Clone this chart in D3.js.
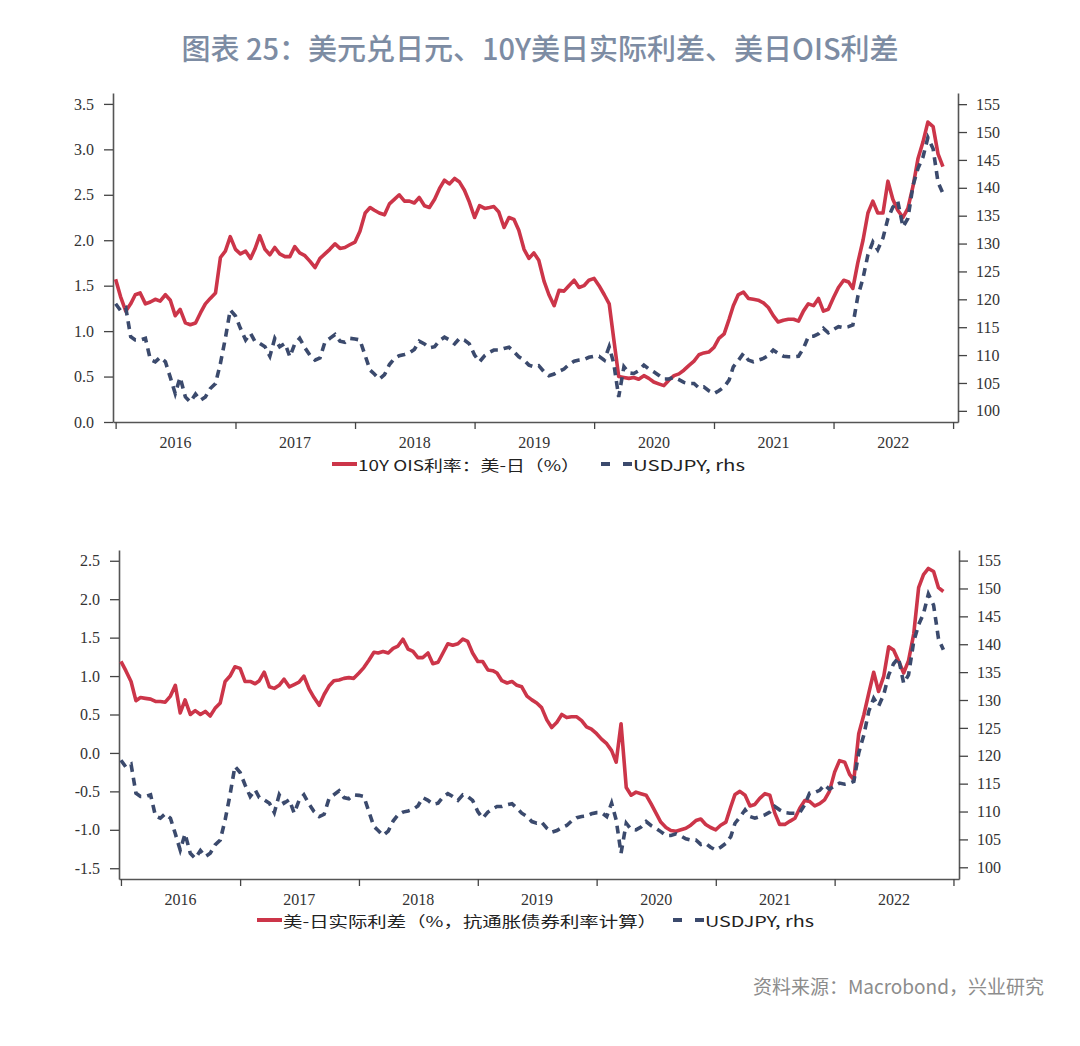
<!DOCTYPE html>
<html>
<head>
<meta charset="utf-8">
<script src="https://cdn.jsdelivr.net/npm/d3@7"></script>
<style>
  body { margin: 0; background: #fff; }
  .tick text { font-family: "Liberation Serif", "DejaVu Serif", serif; font-size: 16px; fill: #333; }
</style>
</head>
<body>
<svg id="chart" width="1080" height="1046"></svg>
<script>
// semi-monthly sample dates: 1st and 16th of each month, Jan 2016 .. Dec 1 2022
const dates = [];
d3.timeMonth.range(new Date(2016, 0, 1), new Date(2022, 11, 2)).forEach((m) => {
  dates.push(m);
  if (m < new Date(2022, 11, 1)) dates.push(new Date(m.getFullYear(), m.getMonth(), 16));
});

const years = [2016, 2017, 2018, 2019, 2020, 2021, 2022];

// 10Y OIS spread US-Japan (%)
const oisSpread = [
  1.57, 1.38, 1.22, 1.30, 1.40, 1.42, 1.30, 1.32, 1.35, 1.33,
  1.40, 1.34, 1.17, 1.24, 1.09, 1.07, 1.09, 1.20, 1.30, 1.36,
  1.42, 1.81, 1.88, 2.04, 1.90, 1.85, 1.88, 1.80, 1.90, 2.05,
  1.90, 1.84, 1.92, 1.85, 1.82, 1.82, 1.93, 1.86, 1.83, 1.77,
  1.70, 1.80, 1.85, 1.90, 1.96, 1.91, 1.92, 1.95, 1.98, 2.10,
  2.30, 2.36, 2.33, 2.30, 2.28, 2.40, 2.45, 2.50, 2.43, 2.43,
  2.41, 2.47, 2.38, 2.36, 2.45, 2.57, 2.66, 2.62, 2.68, 2.64,
  2.55, 2.42, 2.25, 2.38, 2.35, 2.36, 2.37, 2.31, 2.14, 2.25,
  2.23, 2.11, 1.90, 1.80, 1.86, 1.78, 1.55, 1.40, 1.28, 1.45,
  1.44, 1.50, 1.56, 1.48, 1.50, 1.56, 1.58, 1.50, 1.40, 1.30,
  0.91, 0.50, 0.49, 0.48, 0.49, 0.47, 0.51, 0.48, 0.44, 0.42,
  0.40, 0.46, 0.51, 0.53, 0.57, 0.62, 0.67, 0.74, 0.76, 0.77,
  0.82, 0.92, 0.97, 1.13, 1.28, 1.40, 1.43, 1.36, 1.35, 1.34,
  1.31, 1.26, 1.17, 1.10, 1.12, 1.13, 1.13, 1.11, 1.22, 1.30,
  1.28, 1.36, 1.22, 1.24, 1.37, 1.48, 1.56, 1.54, 1.47, 1.75,
  2.00, 2.30, 2.43, 2.30, 2.30, 2.65, 2.45, 2.33, 2.25, 2.35,
  2.60, 2.90, 3.08, 3.30, 3.25, 2.95, 2.81
];

// USDJPY (rhs), same series in both panels
const usdjpy = [
  119.2, 118.0, 118.5, 113.3, 112.7, 112.7, 113.0, 109.2, 108.8, 109.6,
  108.8, 106.0, 103.1, 106.0, 102.5, 101.6, 103.0, 101.9, 102.5, 104.0,
  104.9, 108.5, 113.0, 118.1, 117.0, 114.8, 112.7, 113.9, 112.5, 112.1,
  111.5, 109.8, 113.0, 111.5, 112.1, 109.7, 112.0, 113.0, 111.3, 110.0,
  109.1, 109.5, 112.3, 113.0, 113.7, 112.5, 112.3, 113.0, 112.9, 112.7,
  109.9, 107.3, 106.6, 105.7, 106.5, 108.3, 109.4, 109.9, 110.1, 110.4,
  111.0, 112.5, 112.0, 111.3, 111.5, 112.6, 113.2, 112.7, 112.0, 113.0,
  112.7, 112.0, 110.0, 108.8, 109.9, 110.5, 110.9, 110.9, 111.2, 111.4,
  110.6, 109.7, 109.1, 108.2, 107.9, 108.1, 107.0, 106.3, 106.6, 107.1,
  107.5, 108.3, 108.9, 109.1, 109.2, 109.6, 109.8, 109.8, 109.1, 111.5,
  108.5, 102.5, 107.9, 106.8, 106.7, 107.2, 108.2, 107.5, 107.0, 106.4,
  105.7, 105.7, 106.0, 105.6, 105.1, 104.9, 104.9, 104.1, 104.3, 103.6,
  103.1, 103.6, 104.3, 105.5, 107.9, 109.0, 110.3, 109.1, 108.8, 109.1,
  109.4, 109.9, 110.9, 110.3, 109.8, 109.7, 109.7, 109.8, 111.2, 113.3,
  113.4, 113.8, 114.8, 114.0, 114.6, 115.1, 114.9, 115.1, 115.4, 120.5,
  123.8, 128.0, 130.3, 128.9, 131.0, 134.5, 136.5, 137.6, 133.0, 134.5,
  140.5, 143.5, 145.5, 149.0, 147.0, 141.0, 139.0
];

// US-Japan real yield spread (%, from inflation-linked bonds)
const realSpread = [
  1.19, 1.07, 0.93, 0.68, 0.72, 0.71, 0.70, 0.67, 0.67, 0.66,
  0.74, 0.88, 0.52, 0.69, 0.50, 0.55, 0.50, 0.54, 0.48, 0.58,
  0.65, 0.93, 1.00, 1.12, 1.10, 0.93, 0.93, 0.90, 0.94, 1.05,
  0.86, 0.84, 0.88, 0.96, 0.86, 0.89, 0.92, 1.00, 0.83, 0.72,
  0.62, 0.76, 0.87, 0.94, 0.95, 0.97, 0.98, 0.97, 1.04, 1.11,
  1.21, 1.31, 1.30, 1.32, 1.30, 1.36, 1.39, 1.48, 1.35, 1.32,
  1.24, 1.24, 1.30, 1.16, 1.18, 1.30, 1.42, 1.40, 1.42, 1.48,
  1.45, 1.30, 1.19, 1.19, 1.08, 1.07, 1.04, 0.94, 0.91, 0.93,
  0.88, 0.86, 0.74, 0.69, 0.65, 0.59, 0.43, 0.33, 0.40, 0.50,
  0.46, 0.47, 0.47, 0.42, 0.34, 0.31, 0.25, 0.18, 0.12, 0.03,
  -0.12, 0.38, -0.45, -0.55, -0.51, -0.53, -0.55, -0.66, -0.78, -0.90,
  -0.97, -1.01, -1.02, -1.00, -0.98, -0.94, -0.88, -0.86, -0.93, -0.97,
  -1.00, -0.94, -0.90, -0.70, -0.54, -0.50, -0.55, -0.69, -0.67, -0.59,
  -0.53, -0.55, -0.78, -0.93, -0.93, -0.89, -0.85, -0.72, -0.62, -0.63,
  -0.69, -0.66, -0.61, -0.50, -0.25, -0.10, -0.12, -0.28, -0.35, 0.25,
  0.50, 0.78, 1.05, 0.80, 1.00, 1.38, 1.34, 1.20, 1.04, 1.20,
  1.55, 2.15, 2.32, 2.40, 2.36, 2.15, 2.10
];

const leftTicks1 = [0, 0.5, 1.0, 1.5, 2.0, 2.5, 3.0, 3.5];
const leftTicks2 = [-1.5, -1.0, -0.5, 0, 0.5, 1.0, 1.5, 2.0, 2.5];
const rightTicks = [100, 105, 110, 115, 120, 125, 130, 135, 140, 145, 150, 155];

const redColor = "#cc3549";
const blueColor = "#3b4a6d";

const svg = d3.select("#chart");

// title and source
svg.append("text")
  .attr("x", 540)
  .attr("y", 47)
  .attr("text-anchor", "middle")
  .attr("dominant-baseline", "central")
  .style("font-family", "'Noto Sans CJK SC', sans-serif")
  .style("font-size", "29px")
  .style("font-weight", 500)
  .style("fill", "#7d8ca3")
  .text("图表 25：美元兑日元、10Y美日实际利差、美日OIS利差");

svg.append("text")
  .attr("x", 1044)
  .attr("y", 985)
  .attr("text-anchor", "end")
  .attr("dominant-baseline", "central")
  .style("font-family", "'Noto Sans CJK SC', sans-serif")
  .style("font-size", "19px")
  .style("fill", "#8c8c8c")
  .text("资料来源：Macrobond，兴业研究");

function drawPanel(cfg) {
  const g = svg.append("g");

  const x = d3.scaleTime().domain(cfg.xDomain).range([cfg.left, cfg.right]);
  const yL = d3.scaleLinear().domain(cfg.leftDomain).range([cfg.bottom, cfg.top]);
  const yR = d3.scaleLinear().domain(cfg.rightDomain).range([cfg.bottom, cfg.top]);

  // left axis
  const axL = g.append("g")
    .attr("transform", `translate(${cfg.left},0)`)
    .call(d3.axisLeft(yL).tickValues(cfg.leftTicks).tickFormat((d) => d.toFixed(1))
      .tickSize(9).tickSizeOuter(0).tickPadding(10));

  // right axis
  const axR = g.append("g")
    .attr("transform", `translate(${cfg.right},0)`)
    .call(d3.axisRight(yR).tickValues(rightTicks).tickFormat((d) => d)
      .tickSize(9).tickSizeOuter(0).tickPadding(9));

  // bottom axis: ticks on year boundaries, labels in the middle of each year
  const yearStarts = years.concat([2023]).map((y) => new Date(y, 0, 1));
  const axB = g.append("g")
    .attr("transform", `translate(0,${cfg.bottom})`)
    .call(d3.axisBottom(x).tickValues(yearStarts).tickFormat("").tickSize(7).tickSizeOuter(0));

  [axL, axR, axB].forEach((a) => {
    a.select(".domain").attr("stroke", "#555").attr("stroke-width", 1.6);
    a.selectAll(".tick line").attr("stroke", "#444").attr("stroke-width", 1.3);
  });

  g.selectAll(".yearLabel")
    .data(years)
    .enter()
    .append("text")
    .attr("class", "yearLabel")
    .attr("x", (d) => x(new Date(d, 6, 2)))
    .attr("y", cfg.bottom + 20)
    .attr("text-anchor", "middle")
    .attr("dominant-baseline", "central")
    .style("font-family", "'Liberation Serif', serif")
    .style("font-size", "16px")
    .style("fill", "#333")
    .text((d) => d);

  // lines
  const redLine = d3.line()
    .x((d, i) => x(dates[i]))
    .y((d) => yL(d));
  const blueLine = d3.line()
    .x((d, i) => x(dates[i]))
    .y((d) => yR(d));

  g.append("path")
    .datum(cfg.redValues)
    .attr("d", redLine)
    .style("fill", "none")
    .style("stroke", redColor)
    .style("stroke-width", 3.6)
    .style("stroke-linejoin", "round");

  g.append("path")
    .datum(usdjpy)
    .attr("d", blueLine)
    .style("fill", "none")
    .style("stroke", blueColor)
    .style("stroke-width", 3.6)
    .style("stroke-dasharray", "8,6");

  // legend
  const lg = cfg.legend;
  g.append("line")
    .attr("x1", lg.redX).attr("x2", lg.redX + 25)
    .attr("y1", lg.y).attr("y2", lg.y)
    .style("stroke", redColor).style("stroke-width", 4);
  g.append("text")
    .attr("x", lg.redX + 26)
    .attr("y", lg.y)
    .attr("dominant-baseline", "central")
    .attr("textLength", lg.redLen)
    .attr("lengthAdjust", "spacingAndGlyphs")
    .style("font-family", "'Noto Sans CJK SC', sans-serif")
    .style("font-size", "15px")
    .style("fill", "#222")
    .text(cfg.redLabel);
  g.append("line")
    .attr("x1", lg.blueX).attr("x2", lg.blueX + 31)
    .attr("y1", lg.y).attr("y2", lg.y)
    .style("stroke", blueColor).style("stroke-width", 4)
    .style("stroke-dasharray", "9,13");
  g.append("text")
    .attr("x", lg.blueX + 32)
    .attr("y", lg.y)
    .attr("dominant-baseline", "central")
    .attr("textLength", lg.blueLen)
    .attr("lengthAdjust", "spacingAndGlyphs")
    .style("font-family", "'Noto Sans CJK SC', sans-serif")
    .style("font-size", "15px")
    .style("fill", "#222")
    .text("USDJPY, rhs");
}

drawPanel({
  left: 113, right: 958, top: 93, bottom: 422,
  xDomain: [new Date(2015, 11, 24), new Date(2023, 0, 16)],
  leftDomain: [0, 3.62],
  rightDomain: [98, 157],
  leftTicks: leftTicks1,
  redValues: oisSpread,
  redLabel: "10Y OIS利率：美-日（%）",
  legend: { y: 464, redX: 332, redLen: 222, blueX: 601, blueLen: 112 }
});

drawPanel({
  left: 119, right: 959, top: 550, bottom: 879,
  xDomain: [new Date(2015, 11, 26), new Date(2023, 0, 18)],
  leftDomain: [-1.64, 2.64],
  rightDomain: [97.9, 156.9],
  leftTicks: leftTicks2,
  redValues: realSpread,
  redLabel: "美-日实际利差（%，抗通胀债券利率计算）",
  legend: { y: 920, redX: 257, redLen: 374, blueX: 673, blueLen: 109 }
});
</script>
</body>
</html>
